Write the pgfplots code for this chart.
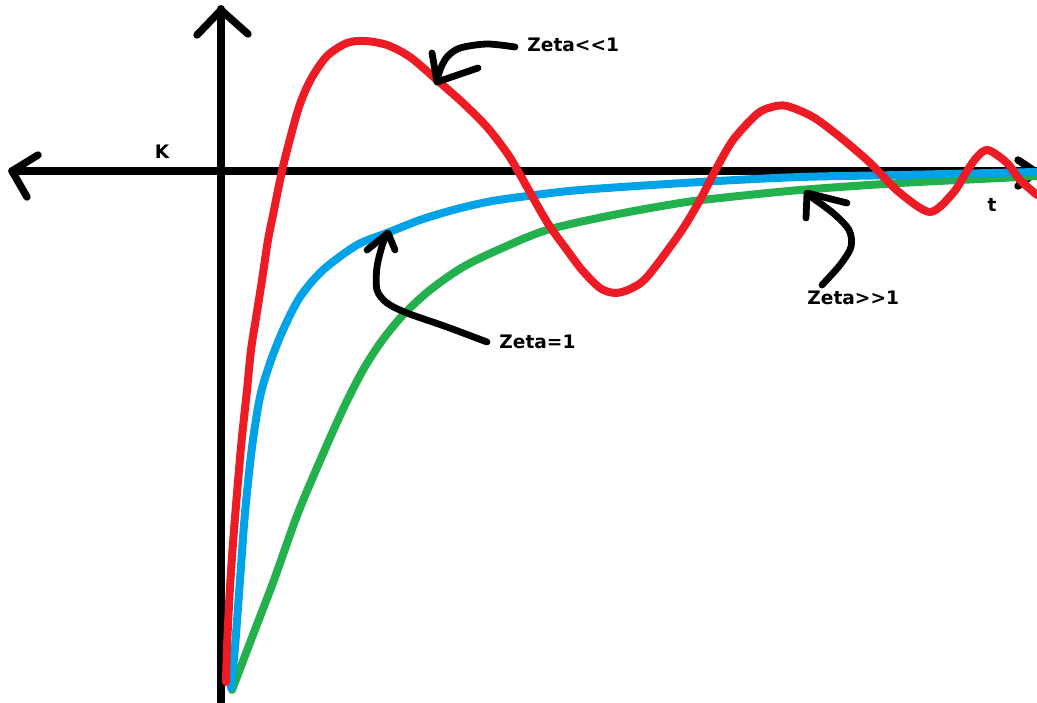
\documentclass[border=0pt]{standalone}
\usepackage{pgfplots}
\pgfplotsset{compat=1.18}
\usepackage{fontspec}
\setmainfont{DejaVu Sans}

\definecolor{paintred}{RGB}{237,28,36}
\definecolor{paintblue}{RGB}{0,162,232}
\definecolor{paintgreen}{RGB}{34,177,76}

\tikzset{lbl/.style={font=\fontsize{9.3}{11}\selectfont\bfseries, inner sep=0pt}}

\begin{document}
\begin{tikzpicture}
\begin{axis}[
  scale only axis,
  width=518.5pt, height=351pt,
  xmin=0, xmax=1037, ymin=0, ymax=702,
  y dir=reverse,
  hide axis,
  clip=true,
  every axis plot/.append style={line cap=round, line join=round},
]
% bounding box of the sketch
\path (axis cs:0,0) (axis cs:1037,702);

% coordinate axes
\addplot[black, line width=3.7pt] coordinates {(12,171) (1037,171)};
\addplot[black, line width=3.7pt] coordinates {(38,155) (12,171) (27,197)};
\addplot[black, line width=3.7pt] coordinates {(1018,160) (1036,172) (1018,186)};
\addplot[black, line width=4pt] coordinates {(221,9) (221,702)};
\addplot[black, line width=3.7pt] coordinates {(197,35) (221,10) (248,34)};

% overdamped response, zeta >> 1
\addplot[paintgreen, line width=4pt, smooth] coordinates {
(232,690) (251,640) (274,580) (298,513) (326,447) (345,405) (363,370)
(381,342) (403,315) (430,290) (463,267) (500,249) (547,230) (613,215)
(680,203) (720,198) (800,190) (900,183) (1000,178) (1037,176)};

% critically damped response, zeta = 1
\addplot[paintblue, line width=4pt, smooth] coordinates {
(231,688) (235,647) (240,580) (245,513) (252,447) (260,397) (270,363)
(283,330) (300,297) (323,270) (357,245) (387,233) (420,220) (453,210)
(487,202) (520,197) (580,190) (700,182) (800,177) (900,175) (1037,172)};

% underdamped response, zeta << 1
\addplot[paintred, line width=4pt, smooth] coordinates {
(226,682) (227,647) (230,587) (234,530) (241,447) (247,390) (251,350)
(256,318) (262,280) (268,240) (273,215) (282,171) (291,135) (300,104)
(311,79) (327,56) (347,43) (365,41) (387,45) (410,57) (437,80) (463,103)
(487,127) (507,153) (518,171) (547,222) (567,250) (582,270) (600,288)
(615,293) (630,289) (647,277) (680,233) (700,200) (715,171) (733,140)
(757,114) (772,107) (787,106) (813,117) (840,137) (867,160) (880,173)
(900,193) (930,212) (953,193) (967,171) (977,157) (988,150) (1007,163)
(1020,180) (1037,195)};

% pointer strokes
\addplot[black, line width=3.4pt, smooth] coordinates {
(515,47) (487,44) (460,48) (447,57) (440,70) (437,82)};
\addplot[black, line width=3.4pt] coordinates {(432,53) (437,82) (478,68)};

\addplot[black, line width=3.4pt, smooth] coordinates {
(487,342) (447,327) (407,313) (387,303) (377,290) (377,267) (383,243) (388,234)};
\addplot[black, line width=3.4pt] coordinates {(367,250) (388,233) (395,250)};

\addplot[black, line width=3.4pt, smooth] coordinates {
(822,285) (840,265) (851,247) (849,230) (833,213) (807,194)};
\addplot[black, line width=3.4pt] coordinates {(806,218) (807,193) (847,203)};

% labels
\node[lbl] at (axis cs:162,152) {K};
\node[lbl, anchor=west] at (axis cs:527,45) {Zeta<\kern0pt<1};
\node[lbl, anchor=west] at (axis cs:499,342) {Zeta=1};
\node[lbl, anchor=west] at (axis cs:807,298) {Zeta>\kern0pt>1};
\node[lbl] at (axis cs:992,205) {t};
\end{axis}
\end{tikzpicture}
\end{document}
